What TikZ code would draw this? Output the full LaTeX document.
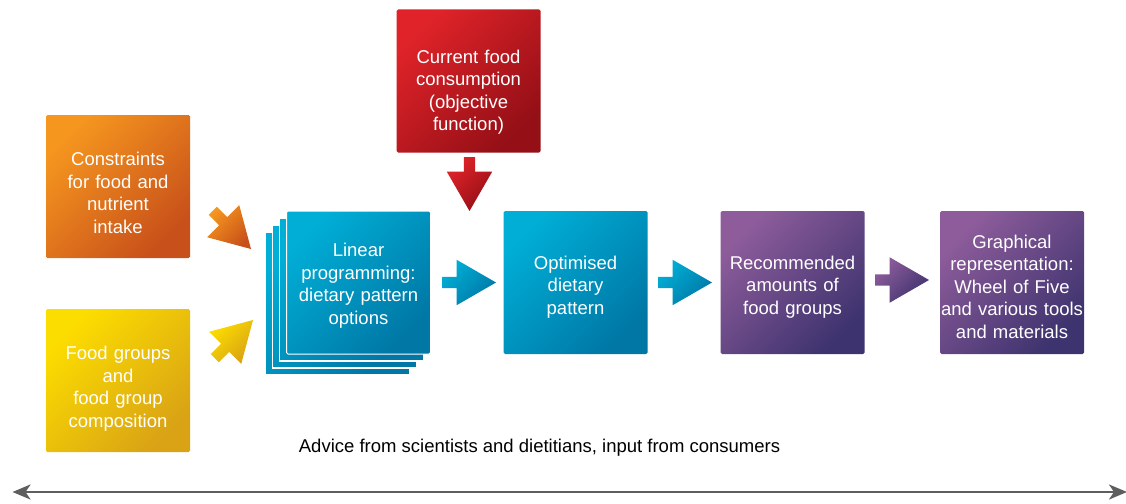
\documentclass[tikz,border=0pt]{standalone}
\usepackage{fontspec}
\setmainfont{Liberation Sans}
\usetikzlibrary{shapes.arrows,arrows.meta}
\definecolor{orangeA}{HTML}{F5961F}
\definecolor{orangeB}{HTML}{C8501A}
\definecolor{yellowA}{HTML}{FCDD00}
\definecolor{yellowB}{HTML}{D9A315}
\definecolor{redA}{HTML}{DF2329}
\definecolor{redB}{HTML}{940F16}
\definecolor{blueA}{HTML}{00AED6}
\definecolor{blueB}{HTML}{0077A5}
\definecolor{purpleA}{HTML}{8E5C9B}
\definecolor{purpleB}{HTML}{3D336E}
\definecolor{lineGray}{HTML}{5E5E5E}
\newcommand\myboxfont{\fontsize{18.5}{22.5}\selectfont}
\tikzset{
  diag/.style 2 args={top color=#1, bottom color=#2, shading angle=45},
  box/.style={rectangle, rounded corners=1.5pt, minimum width=144pt, minimum height=143pt,
    inner sep=0pt, outer sep=0pt},
  txt/.style={text width=144pt, inner sep=0pt, align=center, text=white, font=\myboxfont},
  layer/.style={rectangle, minimum width=144pt, minimum height=143pt, inner sep=0pt,
    draw=white, line width=1.8pt, diag={blueA}{blueB}},
  fat/.style={single arrow, inner sep=0pt, outer sep=0pt, text width=0pt,
    text height=5.5pt, text depth=5.5pt, minimum height=54pt, minimum width=45pt,
    single arrow head extend=17pt, single arrow tip angle=60, anchor=tip},
}
\begin{document}
\begin{tikzpicture}[x=1pt,y=-1pt]
\useasboundingbox (0,0) rectangle (1126,503);
% input boxes
\node[box, diag={orangeA}{orangeB},
  label={[txt, yshift=-6.5pt]center:{Constraints\\for food and\\nutrient\\intake}}] (cons) at (118,186.5) {};
\node[box, diag={yellowA}{yellowB},
  label={[txt, yshift=-8pt]center:{Food groups\\and\\food group\\composition}}] (food) at (118,380.5) {};
\node[box, diag={redA}{redB},
  label={[txt, yshift=-11pt]center:{Current food\\consumption\\(objective\\function)}}] (cur) at (468.5,81) {};
% stacked linear programming box
\node[layer] (lp3) at (337.5,303.5) {};
\node[layer] (lp2) at (344.5,296.5) {};
\node[layer] (lp1) at (351.5,289.5) {};
\node[box, diag={blueA}{blueB}, draw=white, line width=1pt,
  label={[txt, yshift=-3pt]center:{Linear\\programming:\\dietary pattern\\options}}] (lp) at (358.5,282.5) {};
\node[box, diag={blueA}{blueB},
  label={[txt, yshift=-4.5pt]center:{Optimised\\dietary\\pattern}}] (opt) at (575.5,282.5) {};
\node[box, diag={purpleA}{purpleB},
  label={[txt, yshift=-4.5pt]center:{Recommended\\amounts of\\food groups}}] (rec) at (792.5,282.5) {};
\node[box, diag={purpleA}{purpleB},
  label={[txt, yshift=-4pt]center:{Graphical\\representation:\\Wheel of Five\\and various tools\\and materials}}] (gra) at (1012,282.5) {};
% fat arrows
\node[fat, diag={orangeA}{orangeB}, rotate=-45] (a1) at (251,249) {};
\node[fat, diag={yellowA}{yellowB}, rotate=45] (a2) at (253,320) {};
\node[fat, diag={redA}{redB}, rotate=-90] (a3) at (469.5,211) {};
\node[fat, diag={blueA}{blueB}] (a4) at (496,282.5) {};
\node[fat, diag={blueA}{blueB}] (a5) at (712,282.5) {};
\node[fat, diag={purpleA}{purpleB}] (a6) at (929,280) {};
% advice text and double arrow
\node[anchor=base, font=\myboxfont, inner sep=0pt] (adv) at (539.5,452.7) {Advice from scientists and dietitians, input from consumers};
\coordinate (L) at (12.5,492);
\coordinate (R) at (1127,492);
\draw[lineGray, line width=2.6pt, {Stealth[length=18pt,width=15pt,inset=5pt]}-{Stealth[length=18pt,width=15pt,inset=5pt]}] (L) -- (R);
\end{tikzpicture}
\end{document}
